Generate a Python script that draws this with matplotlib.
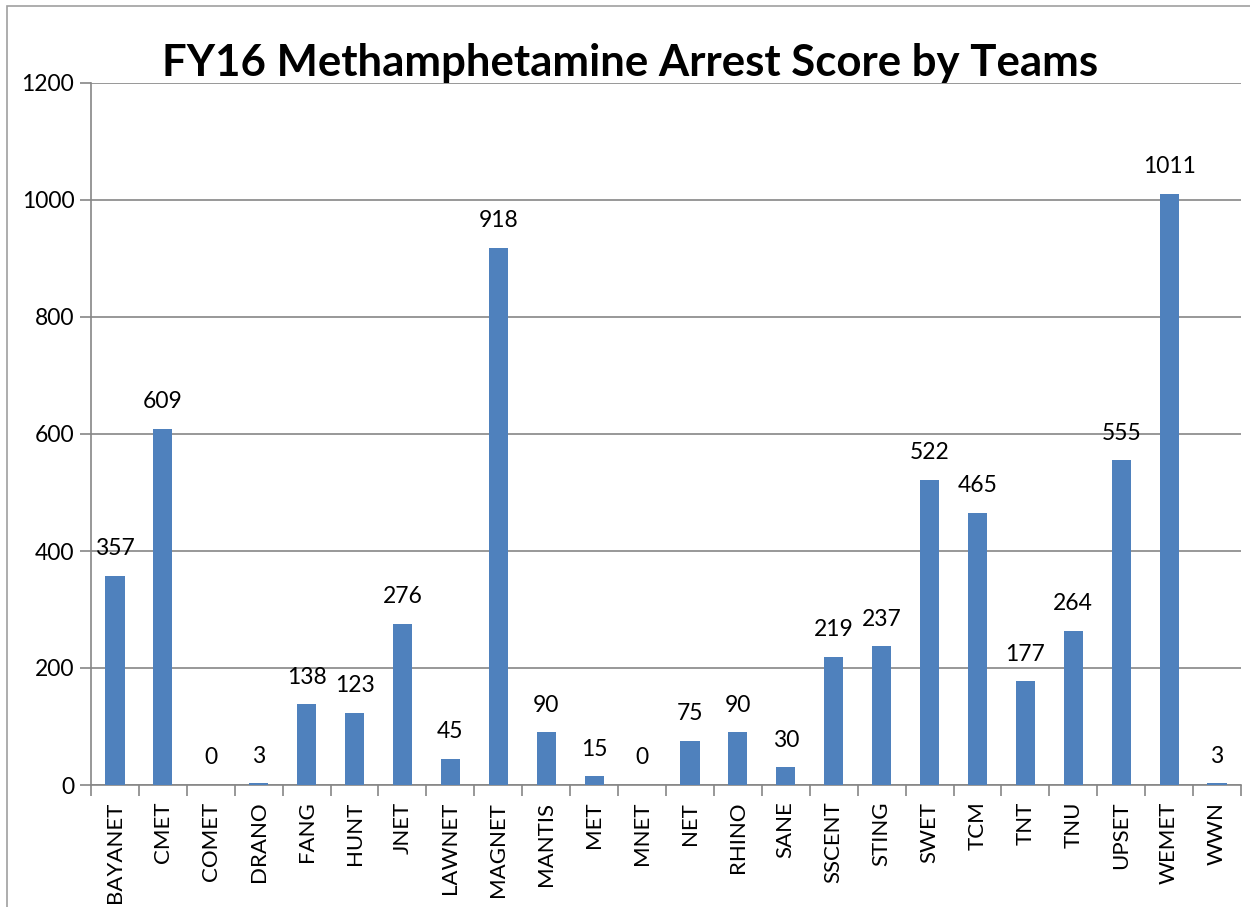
import matplotlib
matplotlib.use("Agg")
import matplotlib.pyplot as plt
from matplotlib.patches import Rectangle

plt.rcParams["font.family"] = ["Lato", "DejaVu Sans"]

teams = ["BAYANET", "CMET", "COMET", "DRANO", "FANG", "HUNT", "JNET", "LAWNET",
         "MAGNET", "MANTIS", "MET", "MNET", "NET", "RHINO", "SANE", "SSCENT",
         "STING", "SWET", "TCM", "TNT", "TNU", "UPSET", "WEMET", "WWN"]
scores = [357, 609, 0, 3, 138, 123, 276, 45, 918, 90, 15, 0, 75, 90, 30, 219,
          237, 522, 465, 177, 264, 555, 1011, 3]
y_ticks = [0, 200, 400, 600, 800, 1000, 1200]

BLUE, GRID = "#4f81bd", "#868686"

fig = plt.figure(figsize=(12.5, 9.07), dpi=100)
# outer chart border (cropped at right/bottom like the source)
fig.patches.append(Rectangle((7 / 1250, -0.1), 1.2, 1 - 6 / 907 + 0.1, transform=fig.transFigure,
                             fill=False, edgecolor="#a0a0a0", linewidth=1.2))

ax = fig.add_axes([91 / 1250, 1 - 785 / 907, 1150 / 1250, 702 / 907])
x = range(len(teams))
ax.bar(x, scores, width=0.4, color=BLUE, zorder=3)
ax.set_xlim(-0.5, len(teams) - 0.5)
ax.set_ylim(0, 1200)
ax.set_yticks(y_ticks)
ax.set_yticklabels([str(v) for v in y_ticks], fontsize=16.5)
ax.yaxis.grid(True, color=GRID, linewidth=1.2, zorder=0)
ax.tick_params(axis="y", length=8, width=1.2, color=GRID, pad=4, direction="out")

ax.set_xticks(x)
ax.set_xticklabels(teams, rotation=90, fontsize=16)
ax.tick_params(axis="x", length=0, pad=12)
ax.set_xticks([i - 0.5 for i in range(len(teams) + 1)], minor=True)
ax.tick_params(axis="x", which="minor", length=8, width=1.2, color=GRID, direction="out")

for s in ["top", "right"]:
    ax.spines[s].set_visible(False)
for s in ["left", "bottom"]:
    ax.spines[s].set_color(GRID)
    ax.spines[s].set_linewidth(1.2)

for xi, v in zip(x, scores):
    ax.annotate(str(v), (xi, v), xytext=(0, 12), textcoords="offset points",
                ha="center", va="bottom", fontsize=16.5)

fig.text(630 / 1250, 1 - 63 / 907, "FY16 Methamphetamine Arrest Score by Teams",
         ha="center", va="center", fontsize=31.5, fontweight="bold")

fig.savefig("out.png", dpi=100)
